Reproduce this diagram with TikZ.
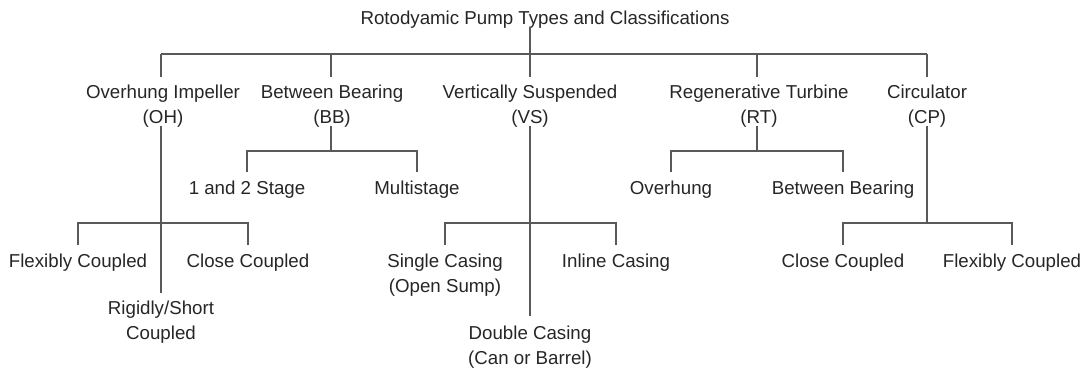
\documentclass[tikz,border=0pt]{standalone}
\usepackage{fontspec}
\setmainfont{Liberation Sans}
\begin{document}
\begin{tikzpicture}[x=1pt,y=-1pt,
  lbl/.style={inner sep=0pt, align=center, text=black!85, font=\fontsize{18.7}{25}\selectfont},
  link/.style={draw=black!65, line width=1.6pt}]
\useasboundingbox (0,0) rectangle (1085,369);
% labels
\node[lbl] (title) at (545,20) {Rotodyamic Pump Types and Classifications};
\node[lbl] (OH) at (163,106.5) {Overhung Impeller\\(OH)};
\node[lbl] (BB) at (332,106.5) {Between Bearing\\(BB)};
\node[lbl] (VS) at (530,106.5) {Vertically Suspended\\(VS)};
\node[lbl] (RT) at (759,106.5) {Regenerative Turbine\\(RT)};
\node[lbl] (CP) at (927,106.5) {Circulator\\(CP)};
\node[lbl] (BB1) at (247,190) {1 and 2 Stage};
\node[lbl] (BB2) at (417,190) {Multistage};
\node[lbl] (RT1) at (671,190) {Overhung};
\node[lbl] (RT2) at (843,190) {Between Bearing};
\node[lbl] (OH1) at (78,263) {Flexibly Coupled};
\node[lbl] (OH2) at (248,263) {Close Coupled};
\node[lbl] (OH3) at (161,322.5) {Rigidly/Short\\Coupled};
\node[lbl] (VS1) at (445,275) {Single Casing\\(Open Sump)};
\node[lbl] (VS2) at (616,263) {Inline Casing};
\node[lbl] (VS3) at (530,347.5) {Double Casing\\(Can or Barrel)};
\node[lbl] (CP1) at (843,263) {Close Coupled};
\node[lbl] (CP2) at (1012,263) {Flexibly Coupled};
% connector x positions and bus levels
\coordinate (b0) at (530,54);
\coordinate (b1) at (0,151);
\coordinate (b2) at (0,223);
\coordinate (xOH) at (161,0);
\coordinate (xBB) at (331,0);
\coordinate (xRT) at (757,0);
% top level
\draw[link] ([yshift=2pt]title.south -| b0) -- (b0);
\draw[link] (xOH |- b0) -- (CP.north |- b0);
\foreach \n/\x in {OH/161,BB/331,VS/530,RT/757,CP/927}
  \draw[link] (\x,54) -- ([yshift=8pt]\n.north -| \x,0);
% between bearing
\draw[link] ([yshift=2pt]BB.south -| xBB) -- (xBB |- b1);
\draw[link] ([yshift=9pt]BB1.north) |- (BB2.north |- b1) -- ([yshift=9pt]BB2.north);
% regenerative turbine
\draw[link] ([yshift=2pt]RT.south -| xRT) -- (xRT |- b1);
\draw[link] ([yshift=9pt]RT1.north) |- (RT2.north |- b1) -- ([yshift=9pt]RT2.north);
% overhung
\draw[link] ([yshift=2pt]OH.south -| xOH) -- ([yshift=8pt]OH3.north);
\draw[link] ([yshift=9pt]OH1.north) |- (OH2.north |- b2) -- ([yshift=9pt]OH2.north);
% vertically suspended
\draw[link] ([yshift=2pt]VS.south) -- ([yshift=10pt]VS3.north);
\draw[link] ([yshift=9pt]VS1.north) |- (VS2.north |- b2) -- ([yshift=9pt]VS2.north);
% circulator
\draw[link] ([yshift=2pt]CP.south) -- (CP.south |- b2);
\draw[link] ([yshift=9pt]CP1.north) |- (CP2.north |- b2) -- ([yshift=9pt]CP2.north);
\end{tikzpicture}
\end{document}
